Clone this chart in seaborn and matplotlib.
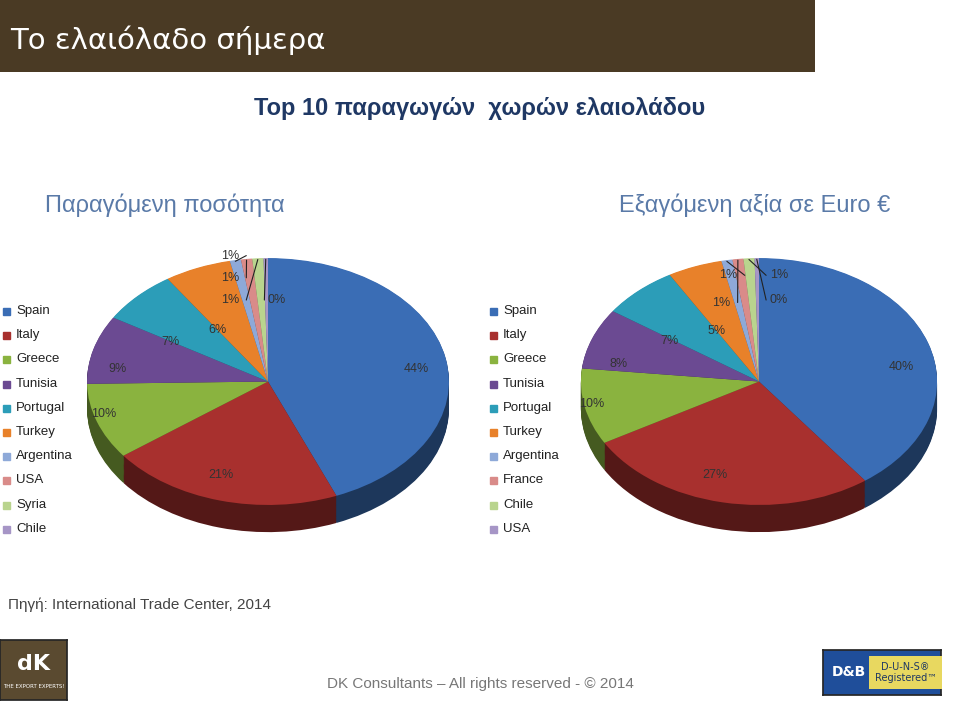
import numpy as np
import matplotlib
matplotlib.use("Agg")
import matplotlib.pyplot as plt
import matplotlib.colors as mcolors
import seaborn as sns

sns.set_theme(style="white")

left_countries = ["Spain", "Italy", "Greece", "Tunisia", "Portugal", "Turkey", "Argentina", "USA", "Syria", "Chile"]
left_values = [44, 21, 10, 9, 7, 6, 1, 1, 1, 0.4]
left_labels = ["44%", "21%", "10%", "9%", "7%", "6%", "1%", "1%", "1%", "0%"]

right_countries = ["Spain", "Italy", "Greece", "Tunisia", "Portugal", "Turkey", "Argentina", "France", "Chile", "USA"]
right_values = [40, 27, 10, 8, 7, 5, 1, 1, 1, 0.4]
right_labels = ["40%", "27%", "10%", "8%", "7%", "5%", "1%", "1%", "1%", "0%"]

base_colors = ["#3A6DB5", "#A8302E", "#8AB33F", "#6B4A92", "#2C9DB8", "#E8812A",
               "#8EA9D8", "#D98B89", "#B9D48E", "#A695C6"]

W, H = 960, 705
fig = plt.figure(figsize=(9.6, 7.05), dpi=100)
fig.patch.set_facecolor("white")

def fx(x): return x / W
def fy(y): return 1 - y / H

band = fig.add_axes([0, fy(72), fx(815), 72 / H])
band.set_facecolor("#4A3A24"); band.set_xticks([]); band.set_yticks([])
for s in band.spines.values(): s.set_visible(False)
fig.text(fx(10), fy(40), "Το ελαιόλαδο σήμερα", color="white", fontsize=21, va="center", family="DejaVu Sans")

fig.text(fx(480), fy(108), "Top 10 παραγωγών  χωρών ελαιολάδου", ha="center", va="center",
         fontsize=17, weight="bold", color="#1F3864", family="Liberation Sans")
fig.text(fx(165), fy(205), "Παραγόμενη ποσότητα", ha="center", va="center", fontsize=17, color="#5A7AA8", family="Liberation Sans")
fig.text(fx(755), fy(205), "Εξαγόμενη αξία σε Euro €", ha="center", va="center", fontsize=17, color="#5A7AA8", family="Liberation Sans")

def legend(x, y0, names, colors):
    for i, (n, c) in enumerate(zip(names, colors)):
        y = y0 + i * 24.2
        fig.patches.append(plt.Rectangle((fx(x), fy(y + 4)), 7 / W, 7 / H, transform=fig.transFigure, color=c))
        fig.text(fx(x + 13), fy(y), n, fontsize=9.5, va="center", family="Liberation Sans", color="#222")

legend(3, 311, left_countries, base_colors)
legend(490, 311, right_countries, base_colors)

def darker(c, f):
    r, g, b = mcolors.to_rgb(c)
    return (r * f, g * f, b * f)

YL = (-1.3, 1.6)

def pie3d(rect, values, labels, colors, pos):
    x0, y0, x1, y1 = rect
    ax = fig.add_axes([fx(x0), fy(y1), (x1 - x0) / W, (y1 - y0) / H])
    depth = 0.22
    for k in np.linspace(depth, 0.005, 25):
        ax.pie(values, colors=[darker(c, 0.5) for c in colors], startangle=90, counterclock=False,
               center=(0, -k), radius=1, frame=True, wedgeprops=dict(linewidth=0))
    ax.pie(values, colors=colors, startangle=90, counterclock=False, center=(0, 0), radius=1, frame=True,
           wedgeprops=dict(linewidth=0))
    ax.set_xlim(-1.05, 1.05); ax.set_ylim(*YL); ax.set_aspect("auto"); ax.axis("off")
    total = sum(values)
    cum = 0
    for i, (v, l) in enumerate(zip(values, labels)):
        mid = 90 - 360 * (cum + v / 2) / total
        cum += v
        a = np.deg2rad(mid)
        tx, ty, ha = pos[i]
        if v < 3:
            ex = tx + (0.04 if ha == "right" else -0.02)
            ax.plot([ex, ex, np.cos(a)], [ty, ty - 0.08 if False else ty, 0.99 * np.sin(a)],
                    color="#222", lw=0.8)
        ax.text(tx, ty, l, ha=ha, va="center", fontsize=9, color="#333", family="Liberation Sans")
    return ax

pie3d((78, 184, 458, 542), left_values, left_labels, base_colors,
      {0: (0.82, 0.1, "center"), 1: (-0.26, -0.76, "center"), 2: (-0.91, -0.26, "center"),
       3: (-0.83, 0.1, "center"), 4: (-0.54, 0.32, "center"), 5: (-0.28, 0.42, "center"),
       6: (-0.16, 1.02, "right"), 7: (-0.16, 0.84, "right"), 8: (-0.16, 0.66, "right"),
       9: (0.0, 0.66, "left")})
pie3d((572, 184, 946, 542), right_values, right_labels, base_colors,
      {0: (0.8, 0.12, "center"), 1: (-0.25, -0.76, "center"), 2: (-0.94, -0.18, "center"),
       3: (-0.79, 0.14, "center"), 4: (-0.5, 0.33, "center"), 5: (-0.24, 0.41, "center"),
       6: (-0.12, 0.86, "right"), 7: (-0.16, 0.64, "right"), 8: (0.06, 0.86, "left"),
       9: (0.06, 0.66, "left")})

fig.text(fx(8), fy(605), "Πηγή: International Trade Center, 2014", fontsize=11, va="center", color="#444",
         family="Liberation Sans")
fig.text(fx(480), fy(684), "DK Consultants – All rights reserved - © 2014", ha="center", va="center",
         fontsize=11, color="#777", family="Liberation Sans")
logo = fig.add_axes([0, fy(700), fx(67), 60 / H])
logo.set_facecolor("#5A4A30"); logo.set_xticks([]); logo.set_yticks([])
logo.text(0.5, 0.6, "dK", color="white", ha="center", va="center", fontsize=16, weight="bold", transform=logo.transAxes)
logo.text(0.5, 0.22, "THE EXPORT EXPERTS!", color="white", ha="center", va="center", fontsize=4, transform=logo.transAxes)
duns = fig.add_axes([fx(823), fy(695), fx(118), 45 / H])
duns.set_facecolor("#1F4E9A"); duns.set_xticks([]); duns.set_yticks([])
duns.text(0.22, 0.5, "D&B", color="white", ha="center", va="center", fontsize=10, weight="bold", transform=duns.transAxes)
duns.text(0.7, 0.5, "D-U-N-S®\nRegistered™", color="#1F3864", ha="center", va="center", fontsize=7,
          transform=duns.transAxes, bbox=dict(facecolor="#E8D860", edgecolor="none"))

fig.savefig("out.png", dpi=100)
